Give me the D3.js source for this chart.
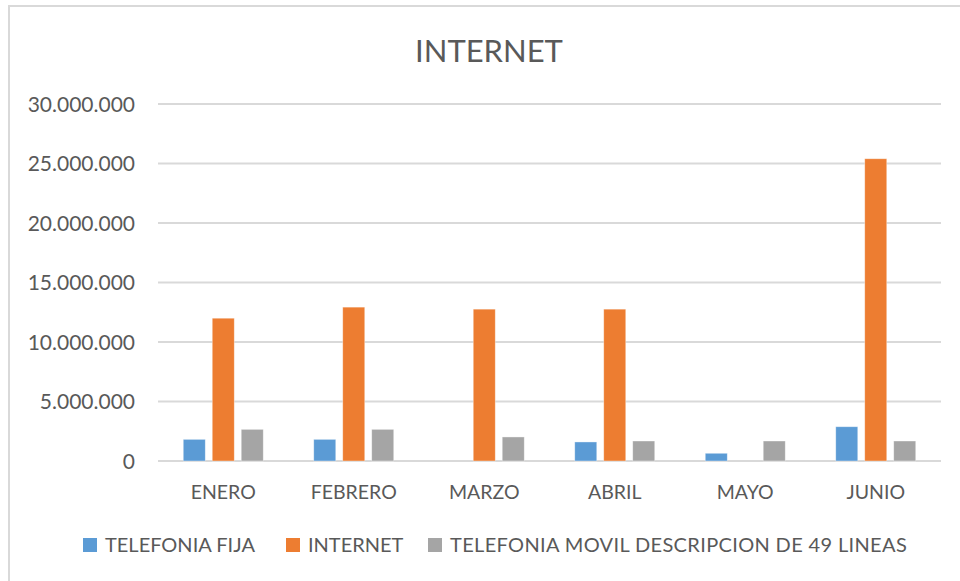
<!DOCTYPE html>
<html>
<head>
<meta charset="utf-8">
<script src="https://cdn.jsdelivr.net/npm/d3@7"></script>
<style>
  body { margin: 0; background: #fff; }
  svg text { font-family: Lato, "Open Sans", sans-serif; fill: #595959; }
</style>
</head>
<body>
<div id="chart"></div>
<script>
// data
var months = ["ENERO", "FEBRERO", "MARZO", "ABRIL", "MAYO", "JUNIO"];
var seriesNames = ["TELEFONIA FIJA", "INTERNET", "TELEFONIA MOVIL DESCRIPCION DE 49 LINEAS"];
var telefoniaFija = [1820000, 1820000, 0, 1600000, 650000, 2880000];
var internet = [12000000, 12930000, 12760000, 12760000, 0, 25400000];
var telefoniaMovil = [2660000, 2660000, 2020000, 1680000, 1680000, 1680000];
var yTicks = [0, 5000000, 10000000, 15000000, 20000000, 25000000, 30000000];
var colors = ["#5b9bd5", "#ed7d31", "#a5a5a5"];

var W = 960, H = 581;
var margin = {top: 104, right: 19, bottom: 120, left: 158};
var width = W - margin.left - margin.right;
var height = H - margin.top - margin.bottom;

var svg = d3.select("#chart").append("svg")
    .attr("width", W)
    .attr("height", H);

// chart frame
svg.append("rect")
    .attr("x", 9).attr("y", 6)
    .attr("width", W).attr("height", H)
    .attr("fill", "none")
    .attr("stroke", "#d9d9d9")
    .attr("stroke-width", 2);

svg.append("text")
    .attr("x", 489).attr("y", 62)
    .attr("text-anchor", "middle")
    .style("font-size", "31px")
    .text("INTERNET");

var g = svg.append("g")
    .attr("transform", "translate(" + margin.left + "," + margin.top + ")");

var y = d3.scaleLinear().domain([0, 30000000]).range([height, 0]);
var x0 = d3.scaleBand().domain(months).range([0, width]).padding(0);
var x1 = d3.scaleBand().domain([0, 1, 2]).range([0, 80]).paddingInner(0.24).paddingOuter(0);

var fmt = function(d) { return d3.format(",")(d).replace(/,/g, "."); };

// gridlines
g.selectAll("line.grid")
    .data(yTicks)
    .join("line")
    .attr("class", "grid")
    .attr("x1", 0).attr("x2", width)
    .attr("y1", d => y(d)).attr("y2", d => y(d))
    .attr("stroke", "#d9d9d9")
    .attr("stroke-width", 2);

g.selectAll("text.ytick")
    .data(yTicks)
    .join("text")
    .attr("class", "ytick")
    .attr("x", -23)
    .attr("y", d => y(d))
    .attr("dy", "0.36em")
    .attr("text-anchor", "end")
    .style("font-size", "21px")
    .text(fmt);

var table = months.map(function(m, i) {
    return {month: m, values: [telefoniaFija[i], internet[i], telefoniaMovil[i]]};
});

var groups = g.selectAll("g.month")
    .data(table)
    .join("g")
    .attr("class", "month")
    .attr("transform", d => "translate(" + (x0(d.month) + x0.bandwidth() / 2 - 40) + ",0)");

groups.selectAll("rect")
    .data(d => d.values.map((v, k) => ({k: k, v: v})).filter(e => e.v > 0))
    .join("rect")
    .attr("x", d => x1(d.k))
    .attr("width", x1.bandwidth())
    .attr("y", d => y(d.v))
    .attr("height", d => height - y(d.v))
    .attr("fill", d => colors[d.k])
    .attr("stroke", "#fff")
    .attr("stroke-opacity", 0.5)
    .attr("stroke-width", 0.75);

g.selectAll("text.xtick")
    .data(months)
    .join("text")
    .attr("class", "xtick")
    .attr("x", d => x0(d) + x0.bandwidth() / 2)
    .attr("y", height + 38)
    .attr("text-anchor", "middle")
    .style("font-size", "19.5px")
    .text(d => d);

// legend
var legendX = [83, 286, 428];
var legend = svg.selectAll("g.legend")
    .data(seriesNames)
    .join("g")
    .attr("class", "legend")
    .attr("transform", (d, i) => "translate(" + legendX[i] + ",538)");

legend.append("rect")
    .attr("width", 14).attr("height", 14)
    .attr("fill", (d, i) => colors[i]);

legend.append("text")
    .attr("x", 22).attr("y", 14)
    .style("font-size", "20px")
    .style("letter-spacing", (d, i) => i === 2 ? "0.35px" : "0px")
    .text(d => d);
</script>
</body>
</html>
